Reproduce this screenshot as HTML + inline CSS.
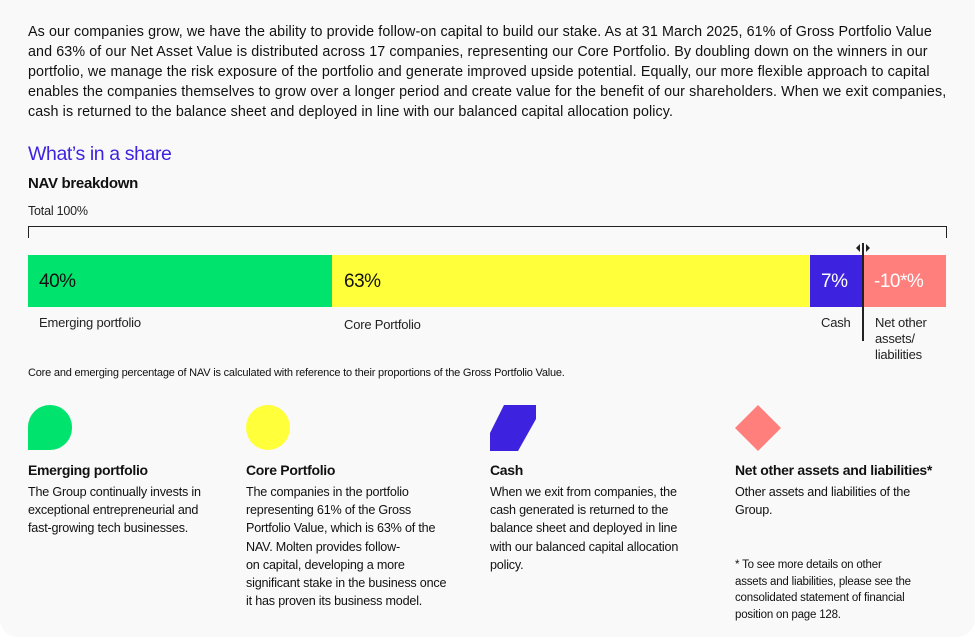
<!DOCTYPE html>
<html><head><style>
body{margin:0;width:975px;height:637px;background:#fff;font-family:"Liberation Sans",sans-serif;color:#111;position:relative;overflow:hidden}
.card{position:absolute;left:0;top:0;width:975px;height:637px;background:#f9f9f9;border-radius:0 0 18px 18px}
.a{position:absolute;white-space:nowrap}
p.intro{position:absolute;left:28px;top:22px;margin:0;font-size:14.3px;line-height:20px;letter-spacing:0.1px;white-space:nowrap}
.lab{font-size:13px;color:#222;letter-spacing:-0.2px}
.pct{font-size:19px;letter-spacing:-0.5px}
.h{font-weight:bold;font-size:14px;letter-spacing:-0.3px}
.b{font-size:12.6px;line-height:18.2px;letter-spacing:-0.2px}
</style></head><body>
<div class="card"></div>
<p class="intro">As our companies grow, we have the ability to provide follow-on capital to build our stake. As at 31 March 2025, 61% of Gross Portfolio Value<br>and 63% of our Net Asset Value is distributed across 17 companies, representing our Core Portfolio. By doubling down on the winners in our<br>portfolio, we manage the risk exposure of the portfolio and generate improved upside potential. Equally, our more flexible approach to capital<br>enables the companies themselves to grow over a longer period and create value for the benefit of our shareholders. When we exit companies,<br>cash is returned to the balance sheet and deployed in line with our balanced capital allocation policy.</p>
<div class="a" style="left:28px;top:143px;font-size:19.5px;color:#3d23e0;letter-spacing:-0.4px">What’s in a share</div>
<div class="a" style="left:28px;top:175px;font-size:15px;font-weight:bold;letter-spacing:-0.3px">NAV breakdown</div>
<div class="a lab" style="left:28px;top:204px;font-size:12.5px">Total 100%</div>
<div class="a" style="left:28px;top:226px;width:917px;height:11px;border:1px solid #222;border-bottom:none"></div>
<div class="a" style="left:28px;top:255px;width:304px;height:52px;background:#00e46d"></div>
<div class="a" style="left:332px;top:255px;width:478px;height:52px;background:#ffff3a"></div>
<div class="a" style="left:810px;top:255px;width:52px;height:52px;background:#3d23e0"></div>
<div class="a" style="left:862px;top:255px;width:84px;height:52px;background:#ff7f7d"></div>
<div class="a" style="left:862px;top:243px;width:1.5px;height:98px;background:#222"></div>
<svg class="a" style="left:855px;top:244px" width="16" height="8"><polygon points="5,0 5,8 1,4" fill="#222"/><polygon points="11,0 11,8 15,4" fill="#222"/></svg>
<div class="a pct" style="left:39px;top:271px">40%</div>
<div class="a pct" style="left:344px;top:271px">63%</div>
<div class="a pct" style="left:821px;top:271px;color:#fff">7%</div>
<div class="a pct" style="left:874px;top:271px;color:#fff">-10*%</div>
<div class="a lab" style="left:39px;top:315px">Emerging portfolio</div>
<div class="a lab" style="left:344px;top:317px">Core Portfolio</div>
<div class="a lab" style="left:821px;top:315px">Cash</div>
<div class="a lab" style="left:875px;top:315px;line-height:16px">Net other<br>assets/<br>liabilities</div>
<div class="a" style="left:28px;top:367px;font-size:11px;letter-spacing:-0.2px">Core and emerging percentage of NAV is calculated with reference to their proportions of the Gross Portfolio Value.</div>
<div class="a" style="left:28px;top:405px;width:44px;height:45px;background:#00e46d;border-radius:22px 22px 22px 0"></div>
<div class="a" style="left:246px;top:405px;width:44px;height:45px;background:#ffff3a;border-radius:50%"></div>
<svg class="a" style="left:490px;top:405px" width="46" height="46"><polygon points="14,0 46,0 46,14 28,46 0,46 0,28" fill="#3d23e0"/></svg>
<svg class="a" style="left:735px;top:405px" width="46" height="46"><polygon points="23,0 46,23 23,46 0,23" fill="#ff7f7d"/></svg>
<div class="a h" style="left:28px;top:462px">Emerging portfolio</div>
<div class="a h" style="left:246px;top:462px">Core Portfolio</div>
<div class="a h" style="left:490px;top:462px">Cash</div>
<div class="a h" style="left:735px;top:462px">Net other assets and liabilities*</div>
<div class="a b" style="left:28px;top:483px">The Group continually invests in<br>exceptional entrepreneurial and<br>fast-growing tech businesses.</div>
<div class="a b" style="left:246px;top:483px">The companies in the portfolio<br>representing 61% of the Gross<br>Portfolio Value, which is 63% of the<br>NAV. Molten provides follow-<br>on capital, developing a more<br>significant stake in the business once<br>it has proven its business model.</div>
<div class="a b" style="left:490px;top:483px">When we exit from companies, the<br>cash generated is returned to the<br>balance sheet and deployed in line<br>with our balanced capital allocation<br>policy.</div>
<div class="a b" style="left:735px;top:483px">Other assets and liabilities of the<br>Group.</div>
<div class="a b" style="left:735px;top:557px;font-size:11.5px;line-height:16.5px">* To see more details on other<br>assets and liabilities, please see the<br>consolidated statement of financial<br>position on page 128.</div>
</body></html>
